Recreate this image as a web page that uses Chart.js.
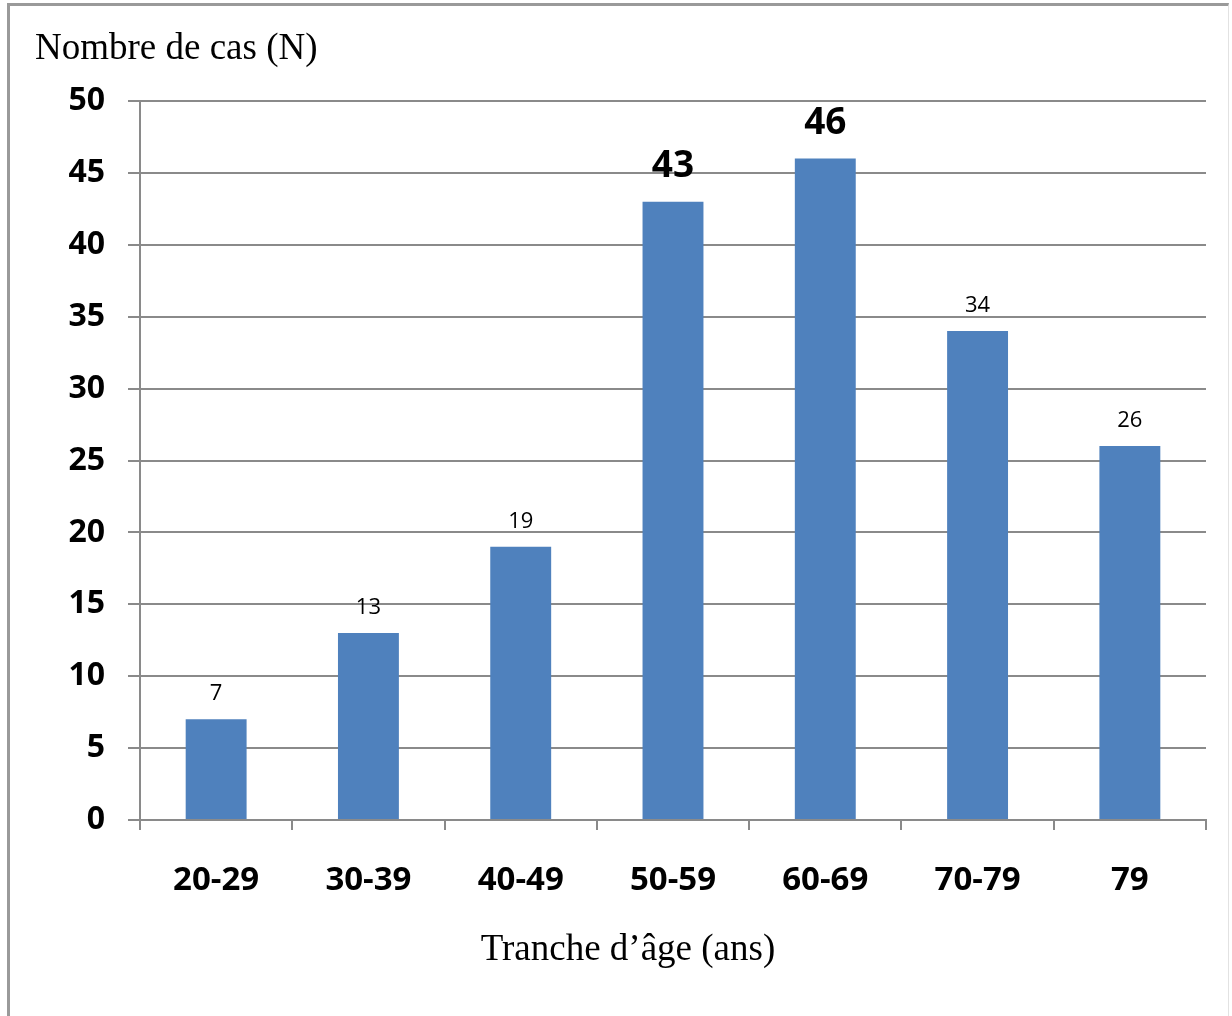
<!DOCTYPE html>
<html lang="fr">
<head>
<meta charset="utf-8">
<title>Nombre de cas par tranche d'âge</title>
<script src="https://cdn.jsdelivr.net/npm/chart.js@4.4.1/dist/chart.umd.min.js"></script>
<style>
  html, body { margin: 0; padding: 0; background: #ffffff; }
  #wrap { position: relative; width: 1232px; height: 1016px; overflow: hidden; }
  #frame {
    position: absolute; left: 7px; top: 3px; width: 1222px; height: 1100px;
    border-left: 3px solid #9a9a9a; border-top: 3px solid #9a9a9a;
    border-right: 1px solid #e2e2e2; box-sizing: border-box;
  }
  #chart { position: absolute; left: 0; top: 0; }
  .axis-title {
    position: absolute; font-family: "Liberation Serif", "Times New Roman", serif;
    font-size: 37px; color: #000; white-space: nowrap; line-height: 1;
  }
  #ytitle { left: 35px; top: 28px; }
  #xtitle { left: 0; width: 1256px; text-align: center; top: 929px; }
</style>
</head>
<body>
<div id="wrap">
  <div id="frame"></div>
  <canvas id="chart" width="1232" height="1016"></canvas>
  <div class="axis-title" id="ytitle">Nombre de cas (N)</div>
  <div class="axis-title" id="xtitle">Tranche d’âge (ans)</div>
</div>
<script>
// Age groups and number of cases in each
const ageGroups = ['20-29', '30-39', '40-49', '50-59', '60-69', '70-79', '79'];
const caseCounts = [7, 13, 19, 43, 46, 34, 26];
// Groups whose value label is set in large bold type
const emphasizedGroups = ['50-59', '60-69'];
// Y axis range and step
const yTicks = { min: 0, max: 50, step: 5 };

const gridGray = '#8a8a8a';
const barBlue = '#4f81bd';

// Writes each bar's value above it
const valueLabels = {
  id: 'valueLabels',
  afterDatasetsDraw(chart) {
    const ctx = chart.ctx;
    const meta = chart.getDatasetMeta(0);
    ctx.save();
    ctx.fillStyle = '#000';
    ctx.textAlign = 'center';
    ctx.textBaseline = 'alphabetic';
    meta.data.forEach((bar, i) => {
      const big = emphasizedGroups.includes(ageGroups[i]);
      ctx.font = big ? 'bold 37px "Open Sans"' : '22px "Open Sans"';
      ctx.fillText(String(caseCounts[i]), bar.x, bar.y - (big ? 25 : 19));
    });
    ctx.restore();
  }
};

new Chart(document.getElementById('chart'), {
  type: 'bar',
  data: {
    labels: ageGroups,
    datasets: [{
      data: caseCounts,
      backgroundColor: barBlue,
      borderWidth: 0,
      barPercentage: 0.4,
      categoryPercentage: 1.0
    }]
  },
  options: {
    responsive: false,
    devicePixelRatio: 1,
    animation: false,
    layout: { padding: { left: 0, top: 101, right: 26, bottom: 0 } },
    plugins: {
      legend: { display: false },
      tooltip: { enabled: false },
      title: { display: false }
    },
    scales: {
      x: {
        offset: true,
        grid: {
          offset: true,
          display: true,
          drawOnChartArea: false,
          drawTicks: true,
          tickLength: 10,
          color: gridGray,
          lineWidth: 2
        },
        border: { display: true, color: gridGray, width: 2 },
        ticks: {
          color: '#000',
          padding: 31,
          font: { family: '"Open Sans"', size: 33, weight: 'bold' }
        },
        afterFit(scale) { scale.height = 196; }
      },
      y: {
        min: yTicks.min,
        max: yTicks.max,
        grid: {
          color: gridGray,
          lineWidth: 2,
          drawTicks: true,
          tickLength: 12
        },
        border: { display: true, color: gridGray, width: 2 },
        ticks: {
          stepSize: yTicks.step,
          color: '#000',
          padding: 23,
          font: { family: '"Open Sans"', size: 32, weight: 'bold' }
        },
        afterFit(scale) { scale.width = 140; }
      }
    }
  },
  plugins: [valueLabels]
});
</script>
</body>
</html>
